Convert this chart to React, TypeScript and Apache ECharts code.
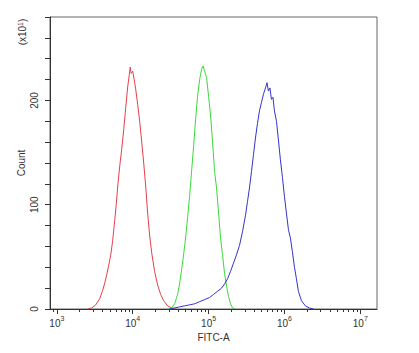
import React, { useEffect, useRef } from "react";
import * as echarts from "echarts";

// x positions are log10(FITC-A); y values are counts (x10^1)
const redX = [3.408, 3.461, 3.513, 3.566, 3.605, 3.632, 3.658, 3.684, 3.711, 3.737, 3.763, 3.783, 3.803, 3.829, 3.855, 3.882, 3.908, 3.934, 3.954, 3.967, 3.98, 4.0, 4.02, 4.039, 4.066, 4.092, 4.118, 4.145, 4.171, 4.197, 4.224, 4.25, 4.289, 4.329, 4.368, 4.408, 4.461, 4.513, 4.566];
const redY = [0, 1, 4, 10, 18, 25, 33, 42, 52, 66, 85, 100, 118, 137, 153, 172, 193, 213, 224, 232, 226, 228, 220, 211, 196, 180, 161, 140, 118, 92, 70, 54, 36, 23, 14, 8, 3, 1, 0];

const greenX = [4.461, 4.513, 4.553, 4.592, 4.618, 4.645, 4.671, 4.697, 4.724, 4.75, 4.776, 4.803, 4.829, 4.855, 4.882, 4.908, 4.928, 4.947, 4.974, 5.0, 5.026, 5.053, 5.079, 5.105, 5.132, 5.158, 5.184, 5.211, 5.237, 5.263, 5.289, 5.316, 5.355];
const greenY = [0, 1, 5, 14, 24, 38, 52, 68, 88, 108, 132, 156, 182, 204, 220, 230, 233, 228, 222, 204, 186, 160, 132, 116, 92, 68, 52, 34, 22, 12, 5, 1, 0];

const blueX = [4.487, 4.553, 4.618, 4.684, 4.75, 4.816, 4.882, 4.947, 5.013, 5.066, 5.118, 5.171, 5.211, 5.25, 5.289, 5.329, 5.368, 5.408, 5.447, 5.487, 5.513, 5.539, 5.566, 5.592, 5.618, 5.645, 5.671, 5.697, 5.724, 5.75, 5.77, 5.789, 5.809, 5.829, 5.849, 5.868, 5.895, 5.921, 5.947, 5.974, 6.0, 6.026, 6.053, 6.079, 6.105, 6.132, 6.158, 6.184, 6.224, 6.276, 6.329, 6.382];
const blueY = [0, 1, 2, 3, 4, 5, 7, 9, 11, 14, 17, 20, 24, 29, 36, 44, 52, 61, 74, 90, 103, 116, 132, 148, 164, 178, 190, 198, 206, 212, 217, 209, 212, 201, 203, 190, 180, 162, 143, 126, 108, 92, 76, 68, 55, 40, 29, 17, 8, 3, 1, 0];

const xDecades = [3, 4, 5, 6, 7];
const yLabels = [0, 100, 200];

const xMin = 2.91;
const xMax = 7.22;

const minorTicks: number[] = [];
for (let n = 2; n <= 7; n++) {
  for (let k = 2; k <= 9; k++) {
    const v = n + Math.log10(k);
    if (v > xMin && v < xMax) minorTicks.push(v);
  }
}

const zip = (xs: number[], ys: number[]) => xs.map((x, i) => [x, ys[i]]);

const FONT = "Liberation Sans, Arial, sans-serif";

export default function App() {
  const ref = useRef<HTMLDivElement>(null);
  useEffect(() => {
    if (!ref.current) return;
    const chart = echarts.init(ref.current, null, { renderer: "svg" });
    const axisColor = "#333";
    chart.setOption({
      animation: false,
      backgroundColor: "#fff",
      textStyle: { fontFamily: FONT },
      grid: {
        left: 50,
        top: 17,
        right: 42,
        bottom: 44,
        show: true,
        borderColor: "#666",
        borderWidth: 1,
        backgroundColor: "transparent",
      },
      xAxis: [
        {
          type: "value",
          position: "bottom",
          min: xMin,
          max: xMax,
          name: "FITC-A",
          nameLocation: "middle",
          nameGap: 23,
          nameMoveOverlap: false,
          nameTextStyle: { fontSize: 10, color: "#333", fontFamily: FONT },
          axisLine: { lineStyle: { color: axisColor, width: 1 } },
          axisTick: { customValues: xDecades, length: 5, lineStyle: { color: axisColor } },
          axisLabel: {
            customValues: xDecades,
            margin: 6,
            color: "#333",
            fontSize: 10,
            formatter: (v: number) => `{b|10}{s|${Math.round(v)}}`,
            rich: {
              b: { fontSize: 10, lineHeight: 13, verticalAlign: "bottom", color: "#333", fontFamily: FONT },
              s: { fontSize: 7, lineHeight: 13, verticalAlign: "top", color: "#333", fontFamily: FONT },
            },
          },
          splitLine: { show: false },
        },
        {
          type: "value",
          position: "bottom",
          min: xMin,
          max: xMax,
          axisLine: { show: false },
          axisTick: { customValues: minorTicks, length: 3, lineStyle: { color: axisColor } },
          axisLabel: { show: false },
          splitLine: { show: false },
        },
      ],
      yAxis: {
        type: "value",
        min: 0,
        max: 280,
        interval: 20,
        name: "Count",
        nameLocation: "middle",
        nameRotate: 90,
        nameGap: 24,
        nameMoveOverlap: false,
        nameTextStyle: { fontSize: 10, color: "#333", fontFamily: FONT },
        axisLine: { show: true, lineStyle: { color: axisColor, width: 1 } },
        axisTick: { show: true, length: 5, lineStyle: { color: axisColor } },
        axisLabel: {
          rotate: 90,
          margin: 11,
          fontSize: 10,
          color: "#333",
          formatter: (v: number) => (yLabels.includes(v) ? String(v) : ""),
        },
        splitLine: { show: false },
      },
      graphic: [
        {
          type: "text",
          x: 22,
          y: 32,
          rotation: Math.PI / 2,
          style: {
            text: "(x10{s|1})",
            fontSize: 10,
            fill: "#333",
            fontFamily: FONT,
            align: "center",
            verticalAlign: "middle",
            rich: {
              s: { fontSize: 7, verticalAlign: "top", fill: "#333", fontFamily: FONT },
            },
          },
        },
      ],
      series: [
        {
          type: "line",
          data: zip(redX, redY),
          showSymbol: false,
          smooth: false,
          lineStyle: { color: "#e4404a", width: 1 },
          itemStyle: { color: "#e4404a" },
        },
        {
          type: "line",
          data: zip(greenX, greenY),
          showSymbol: false,
          lineStyle: { color: "#3cd83c", width: 1 },
          itemStyle: { color: "#3cd83c" },
        },
        {
          type: "line",
          data: zip(blueX, blueY),
          showSymbol: false,
          lineStyle: { color: "#3434c8", width: 1 },
          itemStyle: { color: "#3434c8" },
        },
      ],
    });
    return () => chart.dispose();
  }, []);
  return (
    <div
      ref={ref}
      style={{ position: "fixed", left: 0, top: 0, width: 419, height: 353 }}
    />
  );
}
